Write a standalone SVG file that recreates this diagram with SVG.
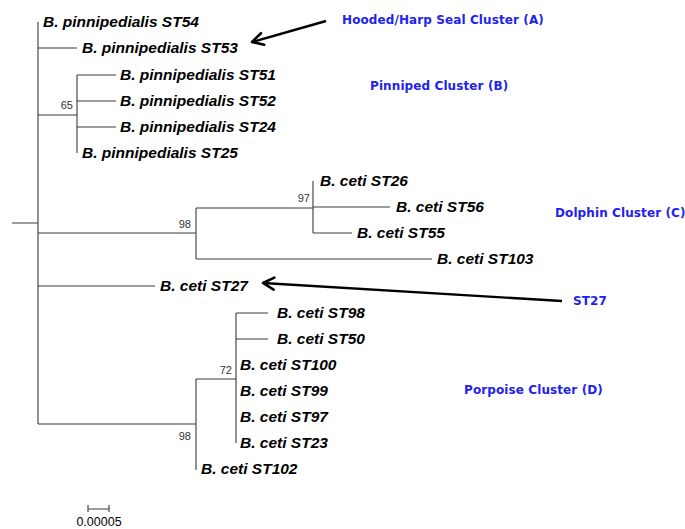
<svg xmlns="http://www.w3.org/2000/svg" width="685" height="529" viewBox="0 0 685 529">
<style>
.tree{stroke:#3a3a3a;stroke-width:1.1;fill:none}
.lab{font-family:"Liberation Sans",Arial,sans-serif;font-size:15.5px;font-weight:bold;font-style:italic;fill:#000}
.bs{font-family:"Liberation Sans",Arial,sans-serif;font-size:11px;fill:#333}
.cl{font-family:"DejaVu Sans",Verdana,sans-serif;font-size:12px;font-weight:bold;fill:#2222ee;letter-spacing:0.1px}
.arr{stroke:#000;stroke-width:2.4;fill:none}
.sc{font-family:"Liberation Sans",Arial,sans-serif;font-size:12.5px;fill:#000}
</style>
<defs>
<marker id="ah" viewBox="-3 -9 17 18" refX="11" refY="0" markerWidth="17" markerHeight="18" orient="auto" markerUnits="userSpaceOnUse">
<path d="M0,-6 L11,0 L0,6" fill="none" stroke="#000" stroke-width="2.6" stroke-linejoin="round" stroke-linecap="round"/>
</marker>
</defs>
<g id="connectors">
<path class="tree" d="M12,223H38M38,22V424"/>
<path class="tree" d="M38,48H77"/>
<path class="tree" d="M38,115H77M77,75V153M77,75H116M77,101H116M77,127H116"/>
<path class="tree" d="M38,233H196M196,208V259M196,259H432M196,208H313M313,181V233M313,207H390M313,233H352"/>
<path class="tree" d="M38,286H155"/>
<path class="tree" d="M38,424H196M196,379V470M196,379H236M236,313V443M236,313H268M236,339H268"/>
<path class="arr" d="M326,21L252,42" marker-end="url(#ah)"/>
<path class="arr" d="M562,301L263,283" marker-end="url(#ah)"/>
</g>
<g id="n-st54"><text class="lab" x="43" y="27">B. pinnipedialis ST54</text></g>
<g id="n-st53"><text class="lab" x="82" y="53">B. pinnipedialis ST53</text></g>
<g id="n-st51"><text class="lab" x="120" y="80">B. pinnipedialis ST51</text></g>
<g id="n-st52"><text class="lab" x="120" y="106">B. pinnipedialis ST52</text></g>
<g id="n-st24"><text class="lab" x="120" y="132">B. pinnipedialis ST24</text></g>
<g id="n-st25"><text class="lab" x="82" y="158">B. pinnipedialis ST25</text></g>
<g id="n-st26"><text class="lab" x="320" y="186">B. ceti ST26</text></g>
<g id="n-st56"><text class="lab" x="396" y="212">B. ceti ST56</text></g>
<g id="n-st55"><text class="lab" x="357" y="238">B. ceti ST55</text></g>
<g id="n-st103"><text class="lab" x="437" y="264">B. ceti ST103</text></g>
<g id="n-st27"><text class="lab" x="160" y="291">B. ceti ST27</text></g>
<g id="n-st98"><text class="lab" x="277" y="318">B. ceti ST98</text></g>
<g id="n-st50"><text class="lab" x="277" y="344">B. ceti ST50</text></g>
<g id="n-st100"><text class="lab" x="240" y="370">B. ceti ST100</text></g>
<g id="n-st99"><text class="lab" x="240" y="396">B. ceti ST99</text></g>
<g id="n-st97"><text class="lab" x="240" y="422">B. ceti ST97</text></g>
<g id="n-st23"><text class="lab" x="240" y="448">B. ceti ST23</text></g>
<g id="n-st102"><text class="lab" x="201" y="474">B. ceti ST102</text></g>
<g id="bootstrap">
<text class="bs" x="73" y="109" text-anchor="end">65</text>
<text class="bs" x="191" y="228" text-anchor="end">98</text>
<text class="bs" x="310" y="202" text-anchor="end">97</text>
<text class="bs" x="232" y="374" text-anchor="end">72</text>
<text class="bs" x="191" y="440" text-anchor="end">98</text>
</g>
<g id="clusters">
<text class="cl" x="342" y="24">Hooded/Harp Seal Cluster (A)</text>
<text class="cl" x="370" y="90">Pinniped Cluster (B)</text>
<text class="cl" x="555" y="217">Dolphin Cluster (C)</text>
<text class="cl" x="573" y="305">ST27</text>
<text class="cl" x="464" y="394">Porpoise Cluster (D)</text>
</g>
<g id="scale">
<path class="tree" d="M88,509H109M88,505V512M109,505V512"/>
<text class="sc" x="99" y="526" text-anchor="middle">0.00005</text>
</g>
</svg>
